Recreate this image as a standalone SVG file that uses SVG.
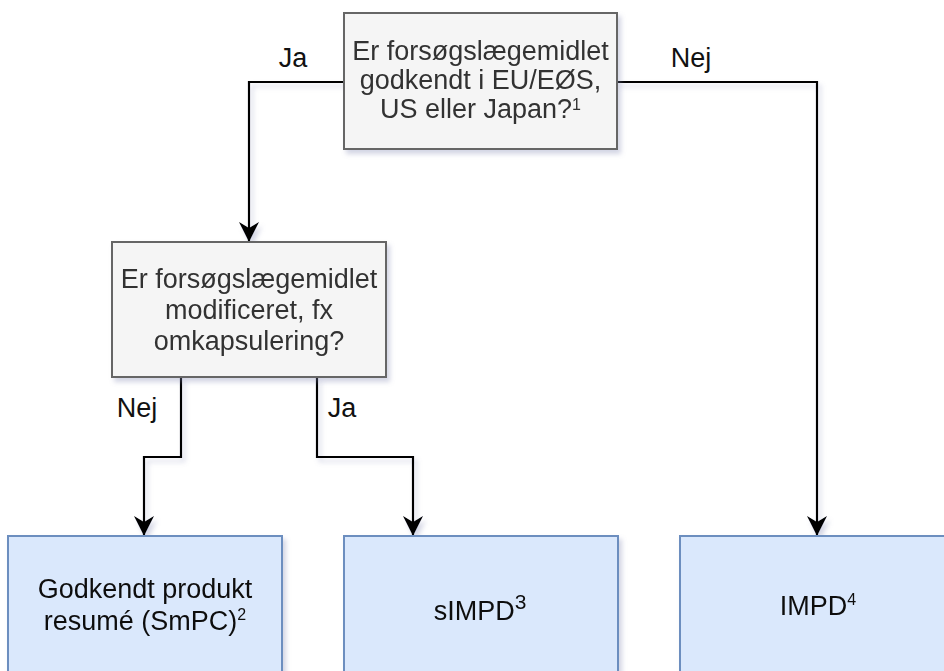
<svg xmlns="http://www.w3.org/2000/svg" width="944" height="671" viewBox="0 0 944 671">
<defs>
<filter id="sh" x="-10%" y="-10%" width="130%" height="130%">
<feDropShadow dx="3" dy="4" stdDeviation="2.5" flood-color="#7f86b0" flood-opacity="0.35"/>
</filter>
<marker id="arr" markerUnits="userSpaceOnUse" markerWidth="24" markerHeight="24" viewBox="-22 -12 24 24" refX="0" refY="0" orient="auto">
<path d="M0,0 L-20,-10 L-14,0 L-20,10 Z" fill="#000"/>
</marker>
<style>
.q rect{fill:#f5f5f5;stroke:#666666;stroke-width:2}
.b rect{fill:#dae8fc;stroke:#6c8ebf;stroke-width:2}
text{font-family:"Liberation Sans",Arial,Helvetica,sans-serif;font-size:27px;text-anchor:middle}
.q text{fill:#333333}
.b text,.lbl{fill:#111111}
.sup{font-size:16px}
#edges path{fill:none;stroke:#000;stroke-width:2.2;marker-end:url(#arr)}
</style>
</defs>
<g id="edges" filter="url(#sh)">
<path d="M344,82 H249 V242"/>
<path d="M617,82 H817 V536"/>
<path d="M181,377 V457 H144 V536"/>
<path d="M317,377 V457 H413 V536"/>
</g>
<g id="labels">
<text class="lbl" x="293" y="67">Ja</text>
<text class="lbl" x="691" y="67">Nej</text>
<text class="lbl" x="137" y="417">Nej</text>
<text class="lbl" x="342" y="417">Ja</text>
</g>
<g id="q1" class="q" filter="url(#sh)">
<rect x="344" y="13" width="273" height="136"/>
<text x="480.5" y="60">Er forsøgslægemidlet</text>
<text x="480.5" y="89">godkendt i EU/EØS,</text>
<text x="480.5" y="118">US eller Japan?<tspan class="sup" dy="-8">1</tspan></text>
</g>
<g id="q2" class="q" filter="url(#sh)">
<rect x="112" y="242" width="274" height="135"/>
<text x="249" y="288">Er forsøgslægemidlet</text>
<text x="249" y="319">modificeret, fx</text>
<text x="249" y="350">omkapsulering?</text>
</g>
<g id="smpc" class="b" filter="url(#sh)">
<rect x="8" y="536" width="274" height="150"/>
<text x="145" y="598">Godkendt produkt</text>
<text x="145" y="630">resumé (SmPC)<tspan class="sup" dy="-10">2</tspan></text>
</g>
<g id="simpd" class="b" filter="url(#sh)">
<rect x="344" y="536" width="274" height="150"/>
<text x="480" y="620">sIMPD<tspan font-size="21" dy="-11">3</tspan></text>
</g>
<g id="impd" class="b" filter="url(#sh)">
<rect x="680" y="536" width="274" height="150"/>
<text x="818" y="615">IMPD<tspan class="sup" dy="-10">4</tspan></text>
</g>
</svg>
